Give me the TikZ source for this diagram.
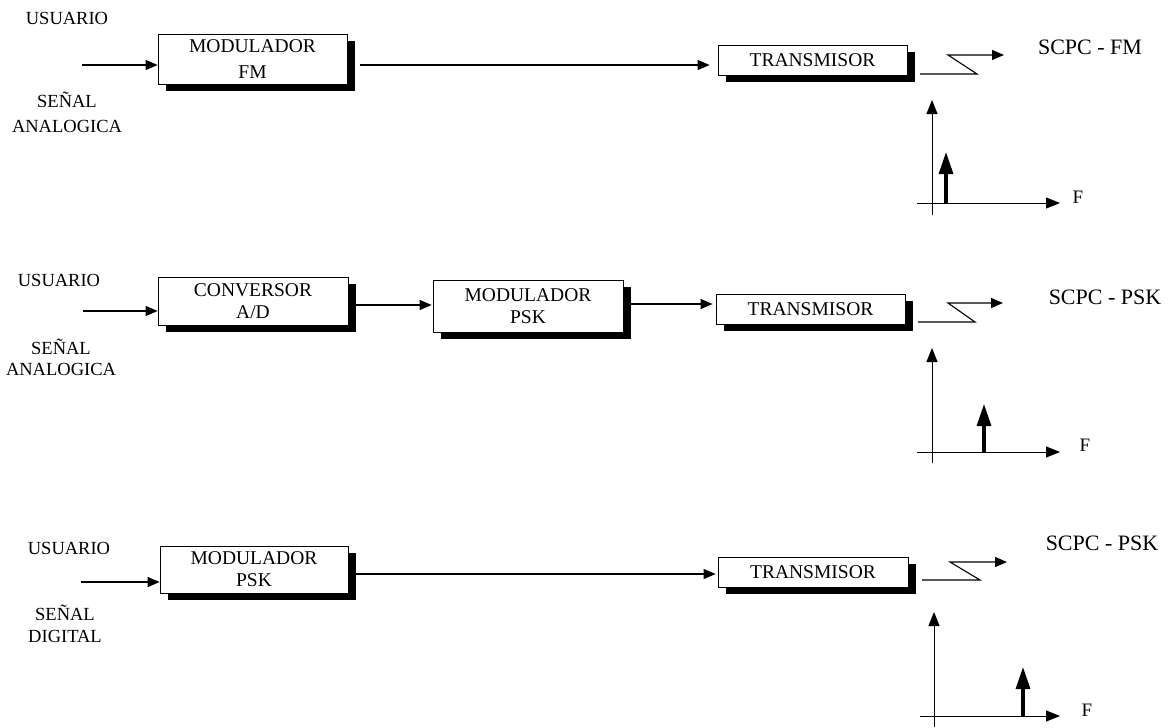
\documentclass[tikz,border=0pt]{standalone}
\usepackage{fontspec}
\setmainfont{Liberation Serif}
\usetikzlibrary{arrows.meta,shadows}
\begin{document}
\begin{tikzpicture}[x=1pt,y=-1pt,
  blk/.style={draw=black,line width=0.7pt,fill=white,inner sep=0pt,align=center,
    drop shadow={shadow xshift=8pt,shadow yshift=-7pt,fill=black,opacity=1}},
  lbl/.style={inner sep=0pt,align=center},
  outlbl/.style={inner sep=0pt,font=\fontsize{22}{26}\selectfont},
  con/.style={line width=1.1pt,-{Triangle[length=12pt,width=10pt]}},
  ax/.style={line width=1pt,-{Triangle[length=14pt,width=11pt]}},
  imp/.style={line width=3.2pt,-{Triangle[length=22pt,width=14pt]}}]
\useasboundingbox (0,0) rectangle (1170,728);

% ---------- Row 1 ----------
\node[lbl,font=\fontsize{18.5}{25}\selectfont] (u1) at (67,18) {USUARIO};
\node[lbl,font=\fontsize{18.5}{25}\selectfont] (s1) at (67,112.5) {SEÑAL\\ANALOGICA};
\node[blk,minimum width=189pt,minimum height=50pt,font=\fontsize{19.5}{26}\selectfont] (m1) at (252.5,59) {MODULADOR\\FM};
\node[blk,minimum width=189pt,minimum height=30pt,font=\fontsize{19.5}{22}\selectfont] (t1) at (812.5,60) {TRANSMISOR};
\coordinate (i1) at (82,65);
\draw[con] (i1) -- (i1 -| m1.west);
\draw[con] ([xshift=13pt]m1.east |- i1) -- ([xshift=-8pt]t1.west |- i1);
\coordinate (z1a) at (920,74);
\coordinate (z1b) at (977,74);
\coordinate (z1c) at (948,55);
\coordinate (z1d) at (1004,55);
\draw[line width=1.1pt,-{Triangle[length=12pt,width=10pt]}] (z1a) -- (z1b) -- (z1c) -- (z1d);
\node[outlbl] (o1) at (1090,47) {SCPC - FM};
\draw[ax] (917,203) coordinate (a1l) -- (1060,203) coordinate (a1r);
\draw[ax] (932,215) coordinate (a1b) -- (932,100) coordinate (a1t);
\draw[imp] (946,203) coordinate (p1b) -- (946,152) coordinate (p1t);
\node[lbl,font=\fontsize{19}{22}\selectfont] (f1) at (1078,197) {F};

% ---------- Row 2 ----------
\node[lbl,font=\fontsize{18.5}{25}\selectfont] (u2) at (59,280) {USUARIO};
\node[lbl,font=\fontsize{18.5}{21}\selectfont] (s2) at (61,357.5) {SEÑAL\\ANALOGICA};
\node[blk,minimum width=190pt,minimum height=48pt,font=\fontsize{19.5}{22.5}\selectfont] (c2) at (253,301) {CONVERSOR\\A/D};
\node[blk,minimum width=190pt,minimum height=52pt,font=\fontsize{19.5}{22}\selectfont] (m2) at (528,306) {MODULADOR\\PSK};
\node[blk,minimum width=189pt,minimum height=30pt,font=\fontsize{19.5}{22}\selectfont] (t2) at (810.5,309) {TRANSMISOR};
\coordinate (i2) at (83,311);
\draw[con] (i2) -- (i2 -| c2.west);
\draw[con] ([xshift=8pt]c2.east |- 0,305) -- ([xshift=-1pt]m2.west |- 0,305);
\draw[con] ([xshift=8pt]m2.east |- 0,304) -- ([xshift=-3pt]t2.west |- 0,304);
\coordinate (z2a) at (918,322);
\coordinate (z2b) at (975,322);
\coordinate (z2c) at (948,303);
\coordinate (z2d) at (1003,303);
\draw[line width=1.1pt,-{Triangle[length=12pt,width=10pt]}] (z2a) -- (z2b) -- (z2c) -- (z2d);
\node[outlbl] (o2) at (1105,297) {SCPC - PSK};
\draw[ax] (917,452) coordinate (a2l) -- (1060,452) coordinate (a2r);
\draw[ax] (932,463) coordinate (a2b) -- (932,348) coordinate (a2t);
\draw[imp] (984,452) coordinate (p2b) -- (984,404) coordinate (p2t);
\node[lbl,font=\fontsize{19}{22}\selectfont] (f2) at (1085,445) {F};

% ---------- Row 3 ----------
\node[lbl,font=\fontsize{18.5}{25}\selectfont] (u3) at (69,548) {USUARIO};
\node[lbl,font=\fontsize{18.5}{22}\selectfont] (s3) at (65,624) {SEÑAL\\DIGITAL};
\node[blk,minimum width=188pt,minimum height=47pt,font=\fontsize{19.5}{22}\selectfont] (m3) at (254,569.5) {MODULADOR\\PSK};
\node[blk,minimum width=190pt,minimum height=30pt,font=\fontsize{19.5}{22}\selectfont] (t3) at (813,572) {TRANSMISOR};
\coordinate (i3) at (81,582);
\draw[con] (i3) -- (i3 -| m3.west);
\draw[con] ([xshift=8pt]m3.east |- 0,574) -- ([xshift=-2pt]t3.west |- 0,574);
\coordinate (z3a) at (922,580);
\coordinate (z3b) at (980,580);
\coordinate (z3c) at (950,562);
\coordinate (z3d) at (1007,562);
\draw[line width=1.1pt,-{Triangle[length=12pt,width=10pt]}] (z3a) -- (z3b) -- (z3c) -- (z3d);
\node[outlbl] (o3) at (1102,543) {SCPC - PSK};
\draw[ax] (920,716) coordinate (a3l) -- (1060,716) coordinate (a3r);
\draw[ax] (934,727) coordinate (a3b) -- (934,612) coordinate (a3t);
\draw[imp] (1023,716) coordinate (p3b) -- (1023,667) coordinate (p3t);
\node[lbl,font=\fontsize{19}{22}\selectfont] (f3) at (1087,710) {F};
\end{tikzpicture}
\end{document}
